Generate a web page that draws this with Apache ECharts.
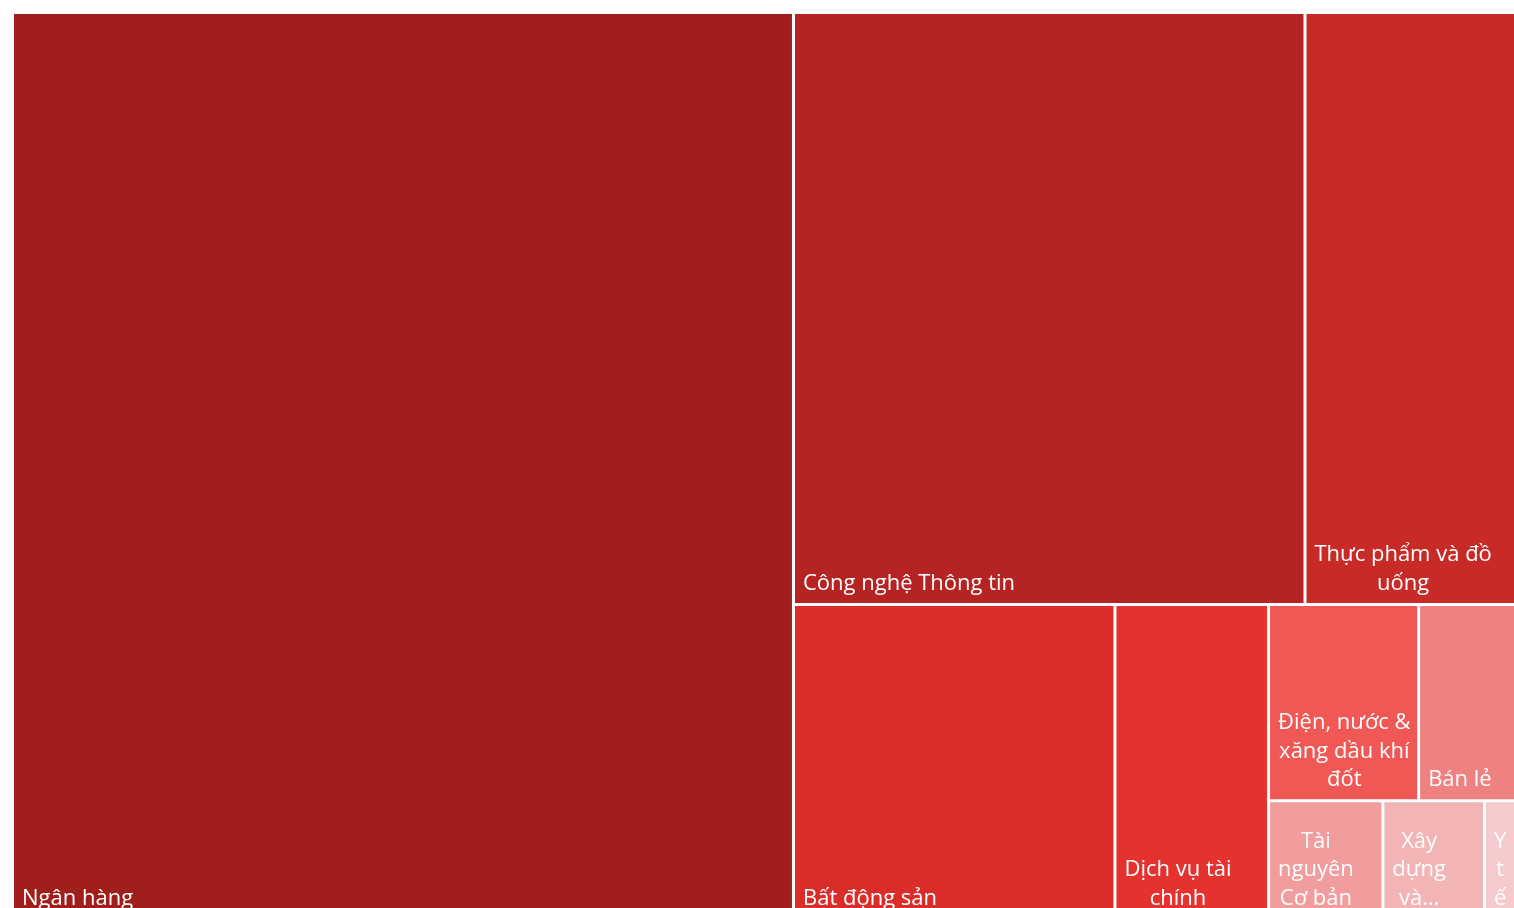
<!DOCTYPE html>
<html>
<head>
<meta charset="utf-8">
<script src="https://cdn.jsdelivr.net/npm/echarts@6/dist/echarts.min.js"></script>
<style>
html, body { margin: 0; padding: 0; background: #ffffff; overflow: hidden; }
#c { width: 1514px; height: 908px; }
</style>
</head>
<body>
<div id="c"></div>
<script>
// ---- data ----
const categories = [
  'Ngân hàng',
  'Công nghệ Thông tin',
  'Thực phẩm và đồ uống',
  'Bất động sản',
  'Dịch vụ tài chính',
  'Điện, nước & xăng dầu khí đốt',
  'Bán lẻ',
  'Tài nguyên Cơ bản',
  'Xây dựng và Vật liệu',
  'Y tế'
];
const values = [51.88, 22.19, 9.24, 7.41, 3.54, 2.16, 1.43, 0.99, 0.88, 0.29];
const colors = ['#A01E1B', '#B52423', '#C82A27', '#DA2D2A', '#E5322E', '#EF5855', '#F08181', '#F29D9D', '#F3B4B5', '#F6CACC'];
// text shown on the tile when the full name is cut short
const shortLabels = { 'Xây dựng và Vật liệu': 'Xây dựng và…' };
// nesting of the categories (indices into the arrays above)
const grouping = [0, [[1, 2], [3, 4, [[5, 6], [7, 8, 9]]]]];

// ---- style ----
const FONT_FAMILY = 'Open Sans';
const FONT_SIZE = 22;
const LINE_H = 28.5;
const PAD = [5, 5, 5, 7];
const BORDER = 1.5;

const mctx = document.createElement('canvas').getContext('2d');
const FONT = FONT_SIZE + 'px "' + FONT_FAMILY + '"';
function tw(s) { mctx.font = FONT; return mctx.measureText(s).width; }
// greedy word wrap of a label into lines that fit maxW
function wrapLines(text, maxW) {
  const lines = [];
  let cur = '';
  text.split(' ').forEach(function (word) {
    const t = cur ? cur + ' ' + word : word;
    if (tw(t) <= maxW) { cur = t; return; }
    if (cur) { lines.push(cur); cur = ''; }
    if (tw(word) <= maxW) { cur = word; return; }
    let piece = '';
    for (const ch of word) {
      if (piece && tw(piece + ch) > maxW) { lines.push(piece); piece = ch; }
      else piece += ch;
    }
    cur = piece;
  });
  if (cur) lines.push(cur);
  return lines;
}

const wrapped = {};   // name -> lines (filled after the first layout pass)

function buildNode(node, pads) {
  if (typeof node === 'number') {
    const name = categories[node];
    const item = {
      name: name,
      value: values[node],
      itemStyle: { color: colors[node], borderWidth: BORDER, borderColor: '#ffffff' }
    };
    if (pads && pads[name]) {
      item.label = { padding: [pads[name][0], pads[name][1], PAD[2], PAD[3]] };
    }
    return item;
  }
  return {
    name: '',
    children: node.map(n => buildNode(n, pads)),
    itemStyle: { borderWidth: 0, gapWidth: 0, borderColor: '#ffffff' }
  };
}

function buildOption(pads) {
  return {
    animation: false,
    backgroundColor: '#ffffff',
    series: [{
      type: 'treemap',
      left: 12.5, top: 12.5, width: 1505.5, height: 906.5,
      roam: false,
      nodeClick: false,
      silent: true,
      sort: false,
      squareRatio: 1,
      visibleMin: 0,
      breadcrumb: { show: false },
      itemStyle: { borderWidth: 0, gapWidth: 0, borderColor: '#ffffff' },
      upperLabel: { show: false },
      label: {
        show: true,
        position: 'insideBottomLeft',
        distance: 0,
        padding: PAD,
        color: '#ffffff',
        fontFamily: FONT_FAMILY,
        fontSize: FONT_SIZE,
        lineHeight: LINE_H,
        overflow: 'none',
        formatter: function (p) {
          const lines = wrapped[p.name] || [shortLabels[p.name] || p.name];
          return lines.map(l => '{t|' + l + '}').join('\n');
        },
        rich: {
          t: { align: 'center', color: '#ffffff', fontFamily: FONT_FAMILY, fontSize: FONT_SIZE, lineHeight: LINE_H }
        }
      },
      data: grouping.map(n => buildNode(n, pads))
    }]
  };
}

const chart = echarts.init(document.getElementById('c'), null, { renderer: 'canvas' });

function run() {
  chart.setOption(buildOption(null), true);
  // second pass: wrap each label to its tile and fit the label box to the text block,
  // so the lines are centred within the block and the block sits at the bottom-left
  try {
    const data = chart.getModel().getSeriesByIndex(0).getData();
    const pads = {};
    data.each(function (idx) {
      const name = data.getName(idx);
      if (categories.indexOf(name) < 0) return;
      const lay = data.getItemLayout(idx);
      if (!lay) return;
      const cw = lay.width - 2 * BORDER;
      const ch = lay.height - 2 * BORDER;
      const lines = wrapLines(shortLabels[name] || name, cw - PAD[3] - PAD[1]);
      wrapped[name] = lines;
      const block = Math.max.apply(null, lines.map(tw));
      const right = Math.max(0, cw - PAD[3] - block - 2);
      const top = Math.max(0, ch - PAD[2] - lines.length * LINE_H);
      pads[name] = [top, right];
    });
    chart.setOption(buildOption(pads), true);
  } catch (e) {
    console.log(e);
  }
}

if (document.fonts && document.fonts.load) {
  document.fonts.load(FONT).then(run, run);
} else {
  run();
}
</script>
</body>
</html>
